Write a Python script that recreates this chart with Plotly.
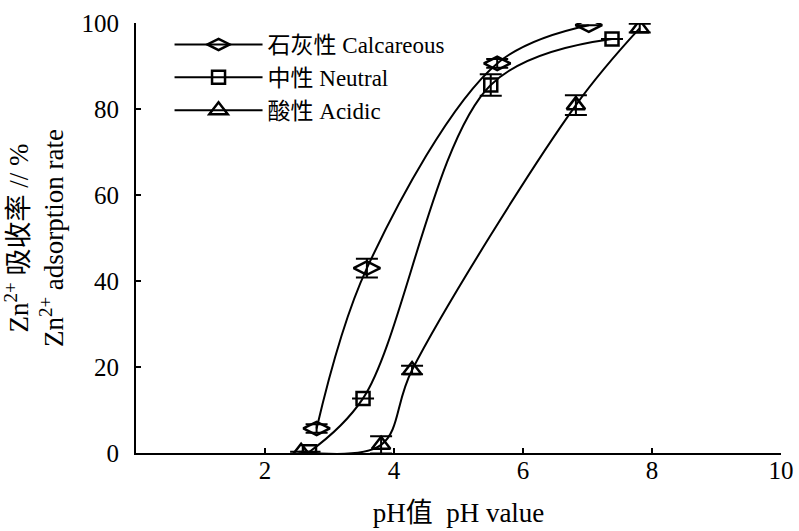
import plotly.graph_objects as go

# Data
calc_x = [2.80, 3.58, 5.60, 7.02]
calc_y = [5.7, 43.0, 90.6, 99.5]
calc_err = [1.0, 2.2, 1.0, 0.0]

neut_x = [2.69, 3.52, 5.50, 7.38]
neut_y = [0.3, 12.7, 85.6, 96.3]
neut_err = [0.0, 0.0, 2.5, 0.0]

acid_x = [2.56, 3.80, 4.28, 6.82, 7.81]
acid_y = [0.3, 1.9, 19.3, 80.9, 98.8]
acid_err = [0.0, 2.0, 1.0, 2.3, 1.0]

x_ticks = [2, 4, 6, 8, 10]
y_ticks = [0, 20, 40, 60, 80, 100]

names = ["石灰性 Calcareous", "中性 Neutral", "酸性 Acidic"]
x_title = "pH值  pH value"
y_title = "Zn<sup>2+</sup> 吸收率 // %<br>Zn<sup>2+</sup> adsorption rate"

FONT = "Liberation Serif, Noto Sans CJK SC, serif"
FS = 25
FT = 27

fig = go.Figure()
series = [
    (calc_x, calc_y, calc_err, "diamond-wide-open", 19),
    (neut_x, neut_y, neut_err, "square-open", 13),
    (acid_x, acid_y, acid_err, "triangle-up-open", 16),
]
for i, (xs, ys, es, sym, sz) in enumerate(series):
    fig.add_trace(go.Scatter(
        x=xs, y=ys, name=names[i], mode="lines+markers",
        line=dict(color="black", width=2, shape="spline", smoothing=1.0),
        marker=dict(symbol=sym, size=sz, color="black",
                    line=dict(color="black", width=2.5)),
        error_y=dict(type="data", array=es, symmetric=True, color="black",
                     thickness=2, width=11),
    ))

fig.update_layout(
    width=799, height=531,
    margin=dict(l=136, r=18, t=23, b=78),
    paper_bgcolor="white", plot_bgcolor="white",
    font=dict(family=FONT, size=FS, color="black"),
    showlegend=True,
    legend=dict(x=0.052, y=1.0, xanchor="left", yanchor="top",
                bgcolor="rgba(0,0,0,0)", itemwidth=88,
                font=dict(family=FONT, size=23, color="black")),
    xaxis=dict(range=[0, 10], tickvals=x_ticks, showgrid=False, zeroline=False,
               showline=True, linecolor="black", linewidth=2,
               ticks="inside", ticklen=5, tickwidth=2, tickcolor="black",
               ticklabelstandoff=-6, automargin=False,
               title=dict(text=x_title, standoff=20,
                          font=dict(family=FONT, size=FT))),
    yaxis=dict(range=[0, 100], tickvals=y_ticks, showgrid=False, zeroline=False,
               showline=True, linecolor="black", linewidth=2,
               ticks="inside", ticklen=5, tickwidth=2, tickcolor="black",
               ticklabelstandoff=10, automargin=False,
               title=dict(text=y_title, standoff=12,
                          font=dict(family=FONT, size=FT))),
)

fig.write_html("out.html", config={"displayModeBar": False},
               post_script="document.body.style.margin='0px';")
